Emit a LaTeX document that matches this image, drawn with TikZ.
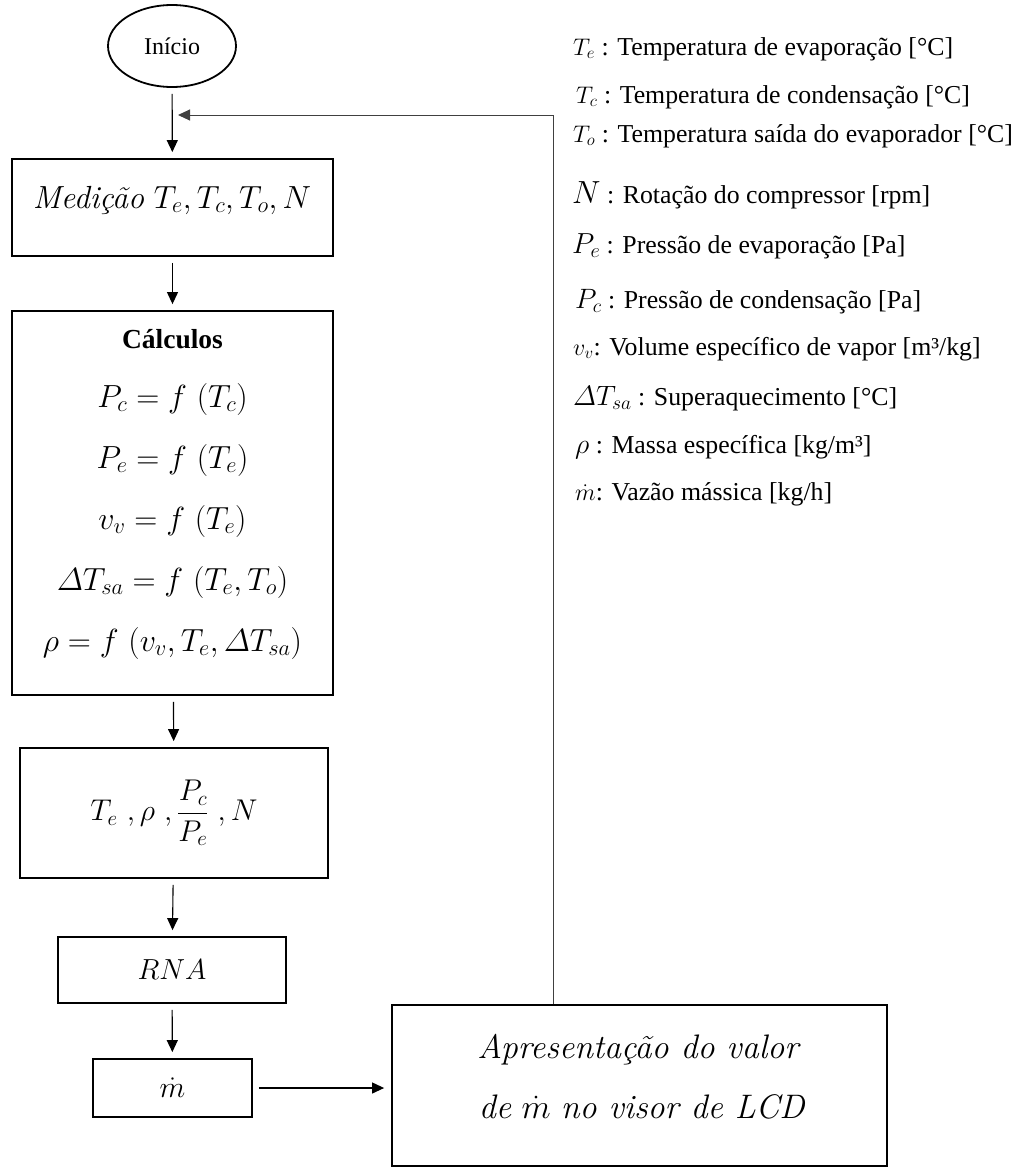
\RequirePackage{fix-cm}
\documentclass[tikz,border=0pt]{standalone}
\usepackage{fontspec}
\newfontfamily\tnr{Liberation Serif}
\usetikzlibrary{shapes.geometric,arrows.meta}

\begin{document}
\begin{tikzpicture}[x=1pt,y=-1pt,
  bloco/.style={draw, line width=1.8pt, rectangle, inner sep=0pt},
  seta/.style={-{Triangle[length=12pt,width=11pt]}, line width=1.1pt, shorten <=6pt, shorten >=6pt},
  txt/.style={inner sep=0pt, anchor=base, font=\fontsize{32}{36}\selectfont},
  leg/.style={inner sep=0pt, anchor=base west, font=\tnr\fontsize{25.8}{30}\selectfont}]
\useasboundingbox (0,0) rectangle (1026,1167);
% fluxograma
\node[ellipse, draw, line width=1.8pt, minimum width=128pt, minimum height=82pt, inner sep=0pt, font=\tnr\fontsize{24}{28}\selectfont] (inicio) at (172,46){Início};
\node[bloco, minimum width=321pt, minimum height=97pt] (medicao) at (172.5,207.5){};
\node[txt] (medicaotxt) at (172,208){\textit{Medição} $T_e,T_c,T_o,N$};
\node[bloco, minimum width=321pt, minimum height=384pt] (calc) at (172.5,503){};
\node[txt, font=\tnr\bfseries\fontsize{27.5}{32}\selectfont] (calc0) at (172.5,348){Cálculos};
\node[txt] (calc1) at (172.5,407){$P_c=f\ (T_c)$};
\node[txt] (calc2) at (172.5,468){$P_e=f\ (T_e)$};
\node[txt] (calc3) at (172.5,529){$v_v=f\ (T_e)$};
\node[txt] (calc4) at (172.5,590){$\mathnormal{\Delta}T_{sa}=f\ (T_e,T_o)$};
\node[txt] (calc5) at (172.5,651){$\rho=f\ (v_v,T_e,\mathnormal{\Delta}T_{sa})$};
\node[bloco, minimum width=308pt, minimum height=130pt, font=\fontsize{30}{35}\selectfont] (entr) at (174,813){$\displaystyle T_e\ ,\rho\ ,\frac{P_c}{P_e}\ ,N$};
\node[bloco, minimum width=228pt, minimum height=66pt, font=\fontsize{29}{35}\selectfont] (rna) at (172,970){$RNA$};
\node[bloco, minimum width=159pt, minimum height=58pt, font=\fontsize{30}{35}\selectfont] (mdot) at (172.5,1088){$\dot{m}$};
\node[bloco, minimum width=495pt, minimum height=161pt] (lcd) at (639.5,1085.5){};
\node[txt, font=\fontsize{34}{40}\selectfont] (lcd1) at (639,1058){\textit{Apresentação do valor}};
\node[txt, font=\fontsize{34}{40}\selectfont] (lcd2) at (642,1118){\textit{de} $\dot{m}$ \textit{no visor de LCD}};
\coordinate (fbin) at (172,115);
\draw[seta] (inicio) -- (medicao);
\draw[seta] (medicao) -- (calc);
\draw[seta] (calc) -- (entr);
\draw[seta] (entr) -- (rna);
\draw[seta] (rna) -- (mdot);
\draw[seta, shorten >=7pt] (mdot.east) -- (mdot.east -| lcd.west);
\draw[seta, shorten <=0pt, line width=1pt, black!75] ([xshift=-86.5pt]lcd.north) |- (fbin);
% legenda
\node[leg] (leg1) at (573,55){{\fontsize{24}{28}\selectfont$T_e$} : Temperatura de evaporação [°C]};
\node[leg] (leg2) at (576,103){{\fontsize{24}{28}\selectfont$T_c$} : Temperatura de condensação [°C]};
\node[leg] (leg3) at (573,142){{\fontsize{24}{28}\selectfont$T_o$} : Temperatura saída do evaporador [°C]};
\node[leg] (leg4) at (572,203){{\fontsize{32}{36}\selectfont$N$} : Rotação do compressor [rpm]};
\node[leg] (leg5) at (572,253){{\fontsize{29}{34}\selectfont$P_e$} : Pressão de evaporação [Pa]};
\node[leg] (leg6) at (575,308){{\fontsize{28}{32}\selectfont$P_c$} : Pressão de condensação [Pa]};
\node[leg] (leg7) at (573,355){{\fontsize{24}{28}\selectfont$v_v$}: Volume específico de vapor [m³/kg]};
\node[leg] (leg8) at (573,405){{\fontsize{28}{32}\selectfont$\mathnormal{\Delta}T_{sa}$} : Superaquecimento [°C]};
\node[leg] (leg9) at (575,453){{\fontsize{28}{32}\selectfont$\rho$} : Massa específica [kg/m³]};
\node[leg] (leg10) at (575,500){{\fontsize{24}{28}\selectfont$\dot{m}$}: Vazão mássica [kg/h]};
\end{tikzpicture}
\end{document}
